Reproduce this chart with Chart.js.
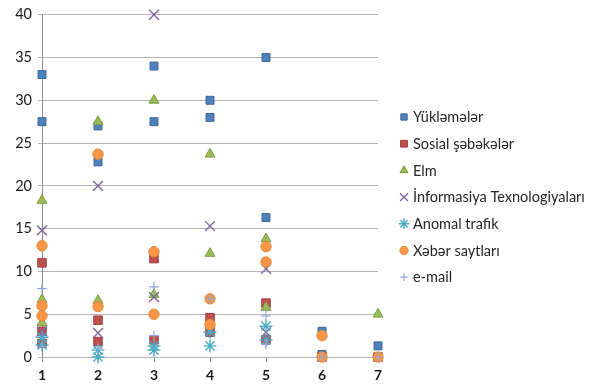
<!DOCTYPE html>
<html>
<head>
<meta charset="utf-8">
<script src="https://cdn.jsdelivr.net/npm/chart.js@4/dist/chart.umd.min.js"></script>
<style>
  html, body { margin: 0; padding: 0; background: #ffffff; }
  #wrap { position: relative; width: 595px; height: 389px; }
</style>
</head>
<body>
<div id="wrap"><canvas id="chart" width="595" height="389"></canvas></div>
<script>
// x positions (categories 1..7)
const categories = [1, 2, 3, 4, 5, 6, 7];

// Values per category for each series (several observations per category)
const yuklemeler = [[33, 27.5], [27, 22.8], [34, 27.5], [30, 28], [35, 16.3], [3.0, 0.3], [1.3, 0]];
const sosialSebekeler = [[11, 3.0, 1.6], [4.3, 1.8], [11.5, 2.0], [4.6, 2.9], [6.3, 2.0], [0], [0]];
const elm = [[18.3, 6.7, 4.0], [27.5, 6.6], [30, 7.3], [23.7, 12.1], [13.8, 5.8], [], [5]];
const informasiya = [[14.8, 3.0], [20, 2.8], [40, 7.0], [15.3, 3.0], [10.3, 2.9], [], []];
const anomalTrafik = [[2.3, 1.4], [0.8, 0], [1.3, 0.8], [2.9, 1.3], [3.6, 2.0], [], []];
const xeberSaytlari = [[13, 6.0, 4.8], [23.7, 5.9], [12.3, 5.0], [6.8, 3.8], [12.9, 11.1], [2.5, 0], [0]];
const email = [[8, 1.2], [1.0], [8.2, 2.5], [6.8], [4.8, 1.5], [0], [0]];

// y axis ticks
const yTicks = [0, 5, 10, 15, 20, 25, 30, 35, 40];

const seriesNames = ['Yükləmələr', 'Sosial şəbəkələr', 'Elm', 'İnformasiya Texnologiyaları',
  'Anomal trafik', 'Xəbər saytları', 'e-mail'];
const seriesValues = [yuklemeler, sosialSebekeler, elm, informasiya, anomalTrafik, xeberSaytlari, email];

const styles = [
  { pointStyle: 'rect',     radius: 5.6, fill: '#4F81BD', border: '#3A6496', bw: 1 },
  { pointStyle: 'rect',     radius: 6.0, fill: '#C0504D', border: '#9A3E3B', bw: 1 },
  { pointStyle: 'triangle', radius: 5.8, fill: '#9BBB59', border: '#7E9C43', bw: 1 },
  { pointStyle: 'crossRot', radius: 7,   fill: '#8064A2', border: '#8064A2', bw: 1.4 },
  { pointStyle: 'star',     radius: 6.5, fill: '#4BACC6', border: '#4BACC6', bw: 1.4 },
  { pointStyle: 'circle',   radius: 5.2, fill: '#F79646', border: '#E58A3A', bw: 1 },
  { pointStyle: 'cross',    radius: 4.8, fill: '#8FA8D8', border: '#8FA8D8', bw: 1.2 }
];

function toPoints(values) {
  const pts = [];
  values.forEach((list, i) => list.forEach(v => pts.push({ x: categories[i], y: v })));
  return pts;
}

const datasets = seriesNames.map((name, i) => ({
  label: name,
  data: toPoints(seriesValues[i]),
  pointStyle: styles[i].pointStyle,
  pointRadius: styles[i].radius,
  pointBackgroundColor: styles[i].fill,
  pointBorderColor: styles[i].border,
  pointBorderWidth: styles[i].bw,
  showLine: false,
  order: seriesNames.length - i,
  clip: false
}));

const FONT = 'Lato, "Open Sans", sans-serif';

// Legend drawn at the right of the plot
const sideLegend = {
  id: 'sideLegend',
  afterDraw(chart) {
    const ctx = chart.ctx;
    const x0 = 404, y0 = 117, step = 26.7;
    ctx.save();
    chart.data.datasets.forEach((ds, i) => {
      const y = y0 + i * step;
      ctx.fillStyle = styles[i].fill;
      ctx.strokeStyle = styles[i].border;
      ctx.lineWidth = styles[i].bw;
      Chart.helpers.drawPoint(ctx, {
        pointStyle: styles[i].pointStyle,
        rotation: 0,
        radius: styles[i].radius * 0.8,
        borderWidth: styles[i].bw
      }, x0, y);
      ctx.fillStyle = '#262626';
      ctx.font = '14.5px ' + FONT;
      ctx.textBaseline = 'middle';
      ctx.textAlign = 'left';
      ctx.fillText(ds.label, 413, y + 0.5);
    });
    ctx.restore();
  }
};

new Chart(document.getElementById('chart'), {
  type: 'scatter',
  data: { datasets },
  options: {
    responsive: false,
    animation: false,
    events: [],
    layout: { padding: { top: 13, right: 217, left: 0, bottom: 0 } },
    plugins: {
      legend: { display: false },
      tooltip: { enabled: false }
    },
    scales: {
      x: {
        type: 'linear',
        min: 1, max: 7,
        afterFit(scale) { scale.height = 32; },
        afterBuildTicks(scale) { scale.ticks = categories.map(v => ({ value: v })); },
        border: { display: false },
        grid: { drawOnChartArea: false, drawTicks: true, tickLength: 5, color: '#9A9A9A' },
        ticks: { color: '#1a1a1a', font: { family: FONT, size: 14, weight: 'bold' }, padding: 5 }
      },
      y: {
        min: 0, max: 40,
        afterFit(scale) { scale.width = 42; },
        afterBuildTicks(scale) { scale.ticks = yTicks.map(v => ({ value: v })); },
        border: { display: true, color: '#8C8C8C', width: 1 },
        grid: { color: '#B3B3B3', lineWidth: 1, drawTicks: true, tickLength: 4 },
        ticks: { color: '#1a1a1a', font: { family: FONT, size: 14.5 }, padding: 6 }
      }
    }
  },
  plugins: [sideLegend]
});
</script>
</body>
</html>
